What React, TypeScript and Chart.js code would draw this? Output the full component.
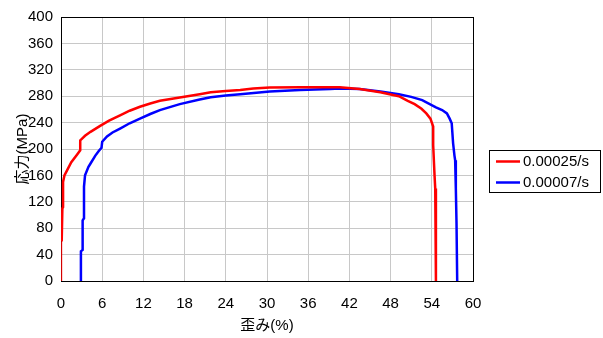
import React, { useEffect, useRef } from "react";
import { Chart, registerables } from "chart.js";

Chart.register(...registerables);

const seriesNames = ["0.00025/s", "0.00007/s"];
const seriesColors = ["#FF0000", "#0000FF"];

// strain (%) and stress (MPa) for rate 0.00025/s
const redStrain = [0.1, 0.1, 0.2, 0.3, 0.3, 0.5, 0.9, 1.5, 2.3, 2.8, 2.8, 3.5, 4.3, 5.7, 7, 8.6, 10, 11.5, 13, 14.4, 17.3, 20.2, 21.8, 24, 26.1, 28, 30.4, 35, 40.6, 43.5, 46.5, 49.2, 50.5, 51.5, 52.5, 53.2, 53.8, 54.2, 54.2, 54.4, 54.5, 54.6];
const redStress = [0, 60, 110, 112, 150, 160, 168, 180, 191, 198, 213, 220, 226, 235, 243, 251, 258, 264, 269, 273, 278, 283, 286, 288, 289.5, 291.5, 293, 293.5, 293.5, 291, 286, 280, 273, 268, 261, 254, 246, 234, 206, 160, 140, 0];

// strain (%) and stress (MPa) for rate 0.00007/s
const blueStrain = [2.9, 2.9, 3.15, 3.15, 3.35, 3.35, 3.5, 4.0, 4.3, 5.0, 5.5, 5.9, 6.0, 6.7, 7.5, 8.6, 10, 11.5, 13, 14.4, 17.3, 20.2, 21.8, 24, 26.1, 30.4, 34.8, 39.2, 40.6, 43.5, 46.5, 49.2, 51, 52.6, 54.6, 55.5, 56.2, 56.6, 56.9, 57.1, 57.3, 57.4, 57.5, 57.6, 57.7];
const blueStress = [0, 45, 47, 92, 95, 143, 160, 173, 178, 190, 197, 202, 211, 219, 225, 231, 239, 246, 253, 259, 268, 275, 278.5, 281, 283, 287, 289.5, 291, 291.5, 291, 287, 283, 279, 274, 263, 259, 254, 246, 239, 209, 190, 183, 140, 87, 0];

const xTicks = [0, 6, 12, 18, 24, 30, 36, 42, 48, 54, 60];
const yTicks = [0, 40, 80, 120, 160, 200, 240, 280, 320, 360, 400];

const xTitle = "歪み(%)";
const yTitle = "応力(MPa)";

const FONT_FAMILY = "'Liberation Sans Narrow', 'Arial Narrow', 'Liberation Sans', 'Noto Sans CJK JP', sans-serif";

function toPoints(xs: number[], ys: number[]) {
  return xs.map((x, i) => ({ x, y: ys[i] }));
}

const framePlugin = {
  id: "frame",
  beforeDatasetsDraw(chart: any) {
    const { ctx, chartArea } = chart;
    const { left, top, right, bottom } = chartArea;
    ctx.save();
    ctx.strokeStyle = "#000000";
    ctx.lineWidth = 1;
    ctx.strokeRect(Math.round(left) + 0.5, Math.round(top) + 0.5, Math.round(right - left), Math.round(bottom - top));
    ctx.restore();
  },
};

const boxLegendPlugin = {
  id: "boxLegend",
  afterDraw(chart: any) {
    const { ctx } = chart;
    const bx = 489.5, by = 150.5, bw = 111, bh = 42;
    ctx.save();
    ctx.fillStyle = "#FFFFFF";
    ctx.fillRect(bx, by, bw, bh);
    ctx.strokeStyle = "#000000";
    ctx.lineWidth = 1;
    ctx.strokeRect(bx, by, bw, bh);
    ctx.font = `15px ${FONT_FAMILY}`;
    ctx.textBaseline = "middle";
    ctx.textAlign = "left";
    chart.data.datasets.forEach((ds: any, i: number) => {
      const y = 161.5 + i * 21;
      ctx.strokeStyle = ds.borderColor;
      ctx.lineWidth = 2.5;
      ctx.beginPath();
      ctx.moveTo(496, y);
      ctx.lineTo(520, y);
      ctx.stroke();
      ctx.fillStyle = "#000000";
      ctx.fillText(ds.label, 523, y);
    });
    ctx.restore();
  },
};

export default function App() {
  const canvasRef = useRef<HTMLCanvasElement | null>(null);

  useEffect(() => {
    const canvas = canvasRef.current;
    if (!canvas) return;
    const chart = new Chart(canvas, {
      type: "line",
      data: {
        datasets: [
          {
            label: seriesNames[0],
            data: toPoints(redStrain, redStress),
            borderColor: seriesColors[0],
            backgroundColor: seriesColors[0],
            borderWidth: 2.5,
            pointRadius: 0,
            tension: 0,
            segment: {
              borderWidth: (c: any) => (c.p0DataIndex === 0 ? 1 : 2.5),
            },
          },
          {
            label: seriesNames[1],
            data: toPoints(blueStrain, blueStress),
            borderColor: seriesColors[1],
            backgroundColor: seriesColors[1],
            borderWidth: 2.5,
            pointRadius: 0,
            tension: 0,
          },
        ],
      },
      options: {
        responsive: false,
        animation: false,
        parsing: true,
        layout: { padding: { left: 0, top: 17, right: 130, bottom: 0 } },
        plugins: {
          legend: { display: false },
          tooltip: { enabled: false },
        },
        scales: {
          x: {
            type: "linear",
            min: 0,
            max: 60,
            afterBuildTicks: (scale: any) => {
              scale.ticks = xTicks.map((v) => ({ value: v }));
            },
            afterFit: (scale: any) => {
              scale.height = 57;
            },
            grid: { color: "#C8C8C8", lineWidth: 1, drawTicks: false },
            border: { display: false },
            ticks: {
              color: "#000000",
              padding: 14,
              maxRotation: 0,
              autoSkip: false,
              font: { family: FONT_FAMILY, size: 15 },
            },
            title: {
              display: true,
              text: xTitle,
              color: "#000000",
              font: { family: FONT_FAMILY, size: 15 },
              padding: { top: 0, bottom: 3 },
            },
          },
          y: {
            type: "linear",
            min: 0,
            max: 400,
            afterBuildTicks: (scale: any) => {
              scale.ticks = yTicks.map((v) => ({ value: v }));
            },
            afterFit: (scale: any) => {
              scale.width = 61;
            },
            grid: { color: "#C8C8C8", lineWidth: 1, drawTicks: false },
            border: { display: false },
            ticks: {
              color: "#000000",
              padding: 8,
              autoSkip: false,
              font: { family: FONT_FAMILY, size: 15 },
            },
            title: {
              display: true,
              text: yTitle,
              color: "#000000",
              font: { family: FONT_FAMILY, size: 15 },
              padding: { top: 14, bottom: 0 },
            },
          },
        },
      },
      plugins: [framePlugin, boxLegendPlugin],
    } as any);
    return () => chart.destroy();
  }, []);

  return (
    <div style={{ position: "fixed", left: 0, top: 0, width: 603, height: 338, background: "#FFFFFF" }}>
      <canvas ref={canvasRef} width={603} height={338} style={{ display: "block" }} />
    </div>
  );
}
